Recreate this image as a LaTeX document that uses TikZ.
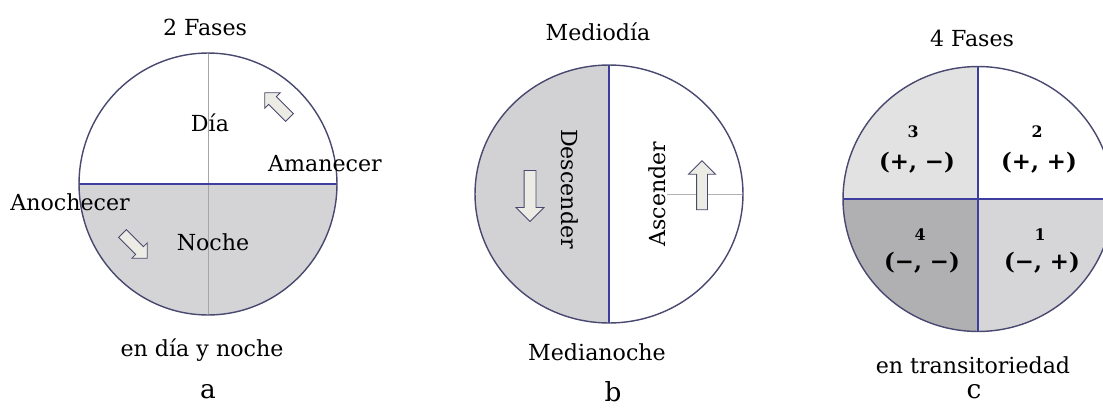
\documentclass[tikz,border=0pt]{standalone}
\usepackage{fontspec}
\setmainfont{DejaVu Serif}
\usetikzlibrary{shapes.arrows}

\definecolor{rimcol}{RGB}{72,72,112}
\definecolor{splitcol}{RGB}{62,62,160}
\definecolor{shadeA}{RGB}{212,212,214}
\definecolor{shadeB}{RGB}{210,210,212}
\definecolor{shadeTL}{RGB}{226,226,226}
\definecolor{shadeBL}{RGB}{176,176,178}
\definecolor{shadeBR}{RGB}{214,214,216}
\definecolor{arrowfill}{RGB}{236,236,228}

\begin{document}
\begin{tikzpicture}[x=0.02cm, y=0.02cm,
    lbl/.style={font=\fontsize{12.6}{14}\selectfont, inner sep=1pt},
    sub/.style={font=\fontsize{15}{17}\selectfont, inner sep=1pt},
    num/.style={font=\fontsize{9}{10}\selectfont\bfseries, inner sep=1pt},
    pair/.style={font=\fontsize{13}{15}\selectfont\bfseries, inner sep=1pt},
    blockarrow/.style={single arrow, draw=rimcol, fill=arrowfill, line width=0.5pt}]
        \useasboundingbox (0,0) rectangle (1103,407);
        % ==== A: DAY AND NIGHT ====
        \begin{scope}
            \clip (208,223) ellipse [x radius=2.58cm, y radius=2.62cm];
            \fill[shadeA] (60,223) rectangle (360,80);
        \end{scope}
        \draw[gray!70, line width=0.4pt] (208,354) -- (208,92);
        \draw[splitcol, line width=0.8pt] (79,223) -- (337,223);
        \draw[rimcol, line width=0.8pt] (208,223) ellipse [x radius=2.58cm, y radius=2.62cm];
        \node[blockarrow, minimum height=0.7cm, inner sep=0.1cm, single arrow head extend=0.11cm, rotate=135] (upA) at (279,300) {};
        \node[blockarrow, minimum height=0.7cm, inner sep=0.1cm, single arrow head extend=0.11cm, rotate=-45] (downA) at (133,163) {};
        \node[lbl] (fasesA) at (205,380) {2 Fases};
        \node[lbl] (dia) at (210,284) {Día};
        \node[lbl] (amanecer) at (325,243) {Amanecer};
        \node[lbl] (anochecer) at (70,205) {Anochecer};
        \node[lbl] (noche) at (213,165) {Noche};
        \node[lbl] (capA) at (202,57) {en día y noche};
        \node[sub] (subA) at (208,15) {a};
        % ==== B: NOON AND MIDNIGHT ====
        \begin{scope}
            \clip (609,213) ellipse [x radius=2.68cm, y radius=2.58cm];
            \fill[shadeB] (460,360) rectangle (609,70);
        \end{scope}
        \draw[gray!60, line width=0.4pt] (667,213) -- (743,213);
        \draw[splitcol, line width=0.8pt] (609,342) -- (609,84);
        \draw[rimcol, line width=0.8pt] (609,213) ellipse [x radius=2.68cm, y radius=2.58cm];
        \node[blockarrow, minimum height=1.02cm, inner sep=0.11cm, single arrow head extend=0.16cm, rotate=-90] (downB) at (530,214) {};
        \node[blockarrow, minimum height=0.98cm, inner sep=0.1cm, single arrow head extend=0.16cm, rotate=90] (upB) at (702,219) {};
        \node[lbl] (mediodia) at (598,375) {Mediodía};
        \node[lbl, rotate=-90] (descender) at (570,218) {Descender};
        \node[lbl, rotate=90] (ascender) at (657,213) {Ascender};
        \node[lbl] (medianoche) at (597,55) {Medianoche};
        \node[sub] (subB) at (613,15) {b};
        % ==== C: FOUR PHASES ====
        \begin{scope}
            \clip (978,208) ellipse [x radius=2.7cm, y radius=2.65cm];
            \fill[shadeTL] (830,208) rectangle (978,350);
            \fill[shadeBL] (830,208) rectangle (978,60);
            \fill[shadeBR] (978,208) rectangle (1130,60);
        \end{scope}
        \draw[splitcol, line width=0.8pt] (843,208) -- (1113,208);
        \draw[splitcol, line width=0.8pt] (978,341) -- (978,75);
        \draw[rimcol, line width=0.8pt] (978,208) ellipse [x radius=2.7cm, y radius=2.65cm];
        \node[lbl] (fasesC) at (972,369) {4 Fases};
        \node[num] (n3) at (913,275) {3};
        \node[pair] (p3) at (917,244) {(+, −)};
        \node[num] (n2) at (1037,275) {2};
        \node[pair] (p2) at (1039,244) {(+, +)};
        \node[num] (n4) at (920,172) {4};
        \node[pair] (p4) at (922,144) {(−, −)};
        \node[num] (n1) at (1040,172) {1};
        \node[pair] (p1) at (1042,144) {(−, +)};
        \node[lbl] (capC) at (973,42) {en transitoriedad};
        \node[sub] (subC) at (974,15) {c};
\end{tikzpicture}
\end{document}
